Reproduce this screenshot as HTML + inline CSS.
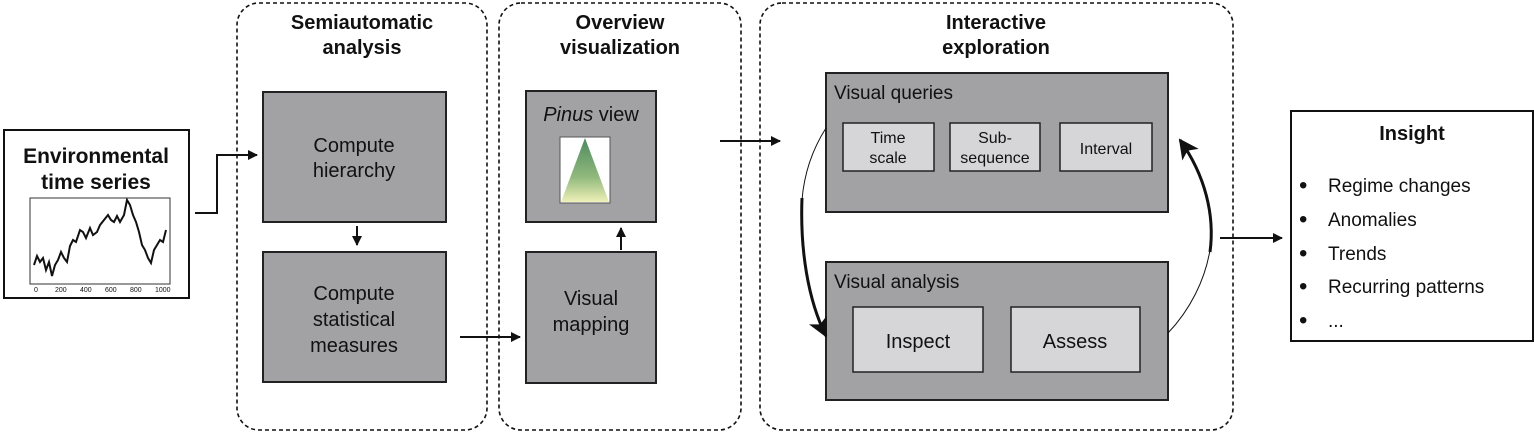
<!DOCTYPE html>
<html><head><meta charset="utf-8"><style>
html,body{margin:0;padding:0;background:#fff;width:1534px;height:436px;overflow:hidden}
svg text{font-family:"Liberation Sans",Arial,sans-serif;fill:#111}
</style></head><body>
<svg width="1534" height="436" viewBox="0 0 1534 436" xmlns="http://www.w3.org/2000/svg">
<defs>
<marker id="a" markerWidth="10" markerHeight="10" refX="9" refY="5" orient="auto" markerUnits="userSpaceOnUse"><path d="M0,0 L10,5 L0,10 z" fill="#111"/></marker>
<marker id="b" markerWidth="20" markerHeight="20" refX="18" refY="10" orient="auto" markerUnits="userSpaceOnUse"><path d="M0,0 L20,10 L0,20 L5,10 z" fill="#111"/></marker>
<linearGradient id="g" x1="0" y1="0" x2="0" y2="1"><stop offset="0" stop-color="#4e8a5e"/><stop offset="0.6" stop-color="#8fb87c"/><stop offset="1" stop-color="#eef0b8"/></linearGradient>
</defs>
<g fill="none" stroke="#111" stroke-width="1.6" stroke-dasharray="4,3">
<rect x="237" y="3" width="250" height="427" rx="22"/>
<rect x="499" y="3" width="242" height="427" rx="22"/>
<rect x="760" y="3" width="473" height="427" rx="22"/>
</g>
<g font-weight="bold" font-size="20" text-anchor="middle">
<text x="362" y="29">Semiautomatic</text><text x="362" y="54">analysis</text>
<text x="620" y="29">Overview</text><text x="620" y="54">visualization</text>
<text x="996" y="29">Interactive</text><text x="996" y="54">exploration</text>
</g>
<rect x="4" y="130" width="185" height="168" fill="#fff" stroke="#111" stroke-width="2"/>
<g font-weight="bold" font-size="21" text-anchor="middle"><text x="96" y="163">Environmental</text><text x="96" y="189">time series</text></g>
<rect x="30" y="198" width="140" height="86" fill="#fff" stroke="#333" stroke-width="1"/>
<polyline fill="none" stroke="#111" stroke-width="2" points="34,265 37,256 40,262 43,258 46,270 49,262 52,276 55,265 58,260 61,252 64,258 67,262 70,246 73,240 76,242 80,230 83,232 86,238 90,228 93,235 97,232 100,225 104,220 108,215 111,220 114,222 117,216 120,222 124,215 127,200 130,205 133,215 136,222 139,232 142,245 145,250 148,258 151,263 154,250 157,245 160,240 163,242 166,230"/>
<g font-size="7" fill="#444"><text x="34" y="292">0</text><text x="55" y="292">200</text><text x="80" y="292">400</text><text x="105" y="292">600</text><text x="130" y="292">800</text><text x="155" y="292">1000</text></g>
<g fill="#a2a2a4" stroke="#222" stroke-width="2">
<rect x="263" y="92" width="183" height="130"/>
<rect x="263" y="252" width="183" height="130"/>
<rect x="526" y="91" width="130" height="131"/>
<rect x="526" y="252" width="130" height="131"/>
<rect x="826" y="73" width="342" height="139"/>
<rect x="826" y="262" width="342" height="138"/>
</g>
<g fill="#d6d6d8" stroke="#222" stroke-width="1.5">
<rect x="843" y="123" width="91" height="48"/>
<rect x="950" y="123" width="90" height="48"/>
<rect x="1060" y="123" width="92" height="48"/>
<rect x="853" y="307" width="130" height="65"/>
<rect x="1011" y="307" width="129" height="65"/>
</g>
<g font-size="20" text-anchor="middle">
<text x="354" y="152">Compute</text><text x="354" y="177">hierarchy</text>
<text x="354" y="300">Compute</text><text x="354" y="326">statistical</text><text x="354" y="352">measures</text>
<text x="591" y="305">Visual</text><text x="591" y="331">mapping</text>
<text x="591" y="121"><tspan font-style="italic">Pinus</tspan> view</text>
<text x="918" y="348">Inspect</text><text x="1075" y="348">Assess</text>
</g>
<g font-size="16" text-anchor="middle">
<text x="888" y="143">Time</text><text x="888" y="163">scale</text>
<text x="995" y="143">Sub-</text><text x="995" y="163">sequence</text>
<text x="1106" y="154">Interval</text>
</g>
<g font-size="19"><text x="834" y="99">Visual queries</text><text x="834" y="288">Visual analysis</text></g>
<rect x="560" y="137" width="50" height="66" fill="#fff" stroke="#555" stroke-width="1"/>
<polygon points="585,138 561,202 609,202" fill="url(#g)"/>
<g fill="none" stroke="#111" stroke-width="2">
<polyline points="195,213 217,213 217,155 257,155" marker-end="url(#a)"/>
<line x1="357" y1="226" x2="357" y2="245" marker-end="url(#a)"/>
<line x1="460" y1="337" x2="520" y2="337" marker-end="url(#a)"/>
<line x1="621" y1="250" x2="621" y2="228" marker-end="url(#a)"/>
<line x1="720" y1="141" x2="780" y2="141" marker-end="url(#a)"/>
<line x1="1220" y1="238" x2="1282" y2="238" marker-end="url(#a)"/>
</g>
<path d="M826,128 C812,150 804,175 802,200" fill="none" stroke="#111" stroke-width="1"/>
<path d="M802,198 C800,250 808,300 826,336" fill="none" stroke="#111" stroke-width="3" marker-end="url(#b)"/>
<path d="M1168,333 C1190,310 1205,280 1210,250" fill="none" stroke="#111" stroke-width="1"/>
<path d="M1210,252 C1215,215 1205,175 1180,140" fill="none" stroke="#111" stroke-width="3" marker-end="url(#b)"/>
<rect x="1291" y="111" width="242" height="230" fill="#fff" stroke="#111" stroke-width="2"/>
<text x="1412" y="140" font-size="20" font-weight="bold" text-anchor="middle">Insight</text>
<g font-size="19">
<text x="1299" y="193" font-size="24">•</text><text x="1328" y="192">Regime changes</text>
<text x="1299" y="227" font-size="24">•</text><text x="1328" y="226">Anomalies</text>
<text x="1299" y="261" font-size="24">•</text><text x="1328" y="260">Trends</text>
<text x="1299" y="294" font-size="24">•</text><text x="1328" y="293">Recurring patterns</text>
<text x="1299" y="328" font-size="24">•</text><text x="1328" y="327">...</text>
</g>
</svg>
</body></html>
